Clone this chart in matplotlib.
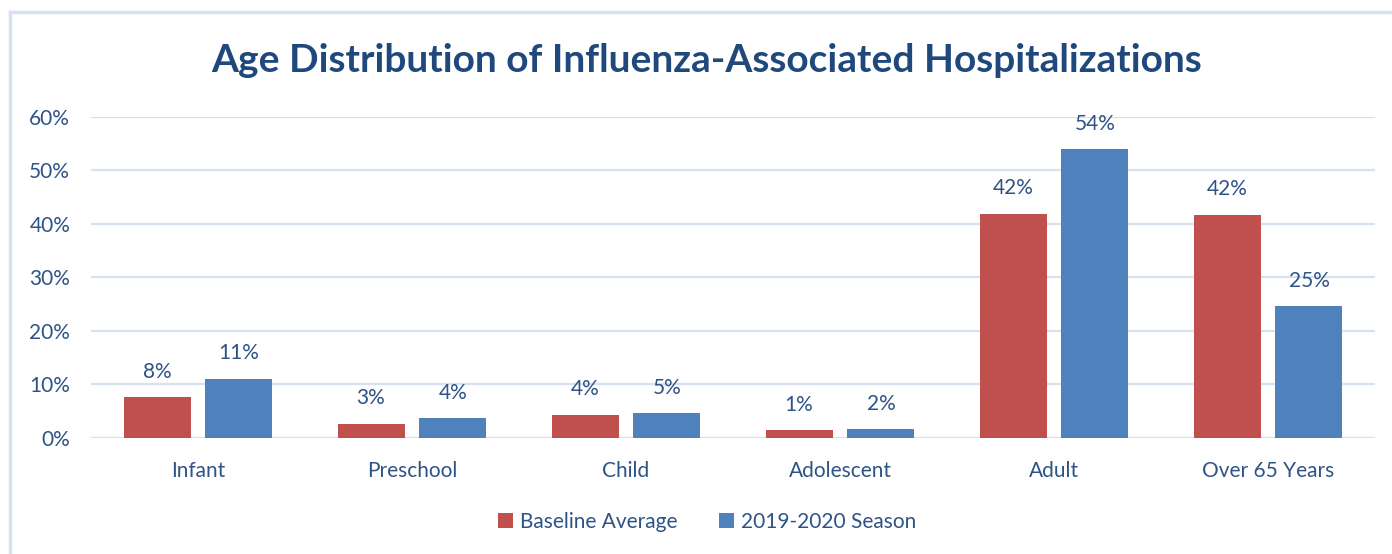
import matplotlib
matplotlib.use("Agg")
import matplotlib.pyplot as plt
from matplotlib.lines import Line2D
import numpy as np

categories = ["Infant", "Preschool", "Child", "Adolescent", "Adult", "Over 65 Years"]
baseline = [7.5, 2.6, 4.3, 1.4, 41.9, 41.7]
season = [11.0, 3.6, 4.6, 1.6, 54.0, 24.6]
series_names = ["Baseline Average", "2019-2020 Season"]
yticks = [0, 10, 20, 30, 40, 50, 60]

RED = "#C0504D"
BLUE = "#4F81BD"
TXT = "#2E5386"
TITLE = "#1F497D"
GRID = "#D6E2F2"

plt.rcParams['font.family'] = ['Lato', 'DejaVu Sans']

W, H = 1392, 554
fig = plt.figure(figsize=(W / 100, H / 100), dpi=100)
ax = fig.add_axes([91 / W, 1 - 437.5 / H, (1375 - 91) / W, (437.5 - 117) / H])

x = np.arange(len(categories))
bw = 0.313
gap = 0.07
off = (bw + gap) / 2
b1 = ax.bar(x - off, baseline, bw, color=RED, label=series_names[0], zorder=3)
b2 = ax.bar(x + off, season, bw, color=BLUE, label=series_names[1], zorder=3)

FS = 15
for bars, vals in ((b1, baseline), (b2, season)):
    for rect, v in zip(bars, vals):
        ax.annotate(f"{v:.0f}%", (rect.get_x() + rect.get_width() / 2, v),
                    xytext=(0, 11), textcoords="offset points",
                    ha="center", va="bottom", fontsize=FS, color=TXT)

ax.set_xlim(-0.5, len(categories) - 0.5)
ax.set_ylim(0, 60)
ax.set_yticks(yticks)
ax.set_yticklabels([f"{t}%" for t in yticks])
ax.set_xticks(x)
ax.set_xticklabels(categories)
ax.tick_params(axis="both", length=0, labelsize=FS, labelcolor=TXT)
ax.tick_params(axis="y", pad=15)
ax.tick_params(axis="x", pad=17)
ax.yaxis.grid(True, color=GRID, linewidth=1.6, zorder=0)
for s in ax.spines.values():
    s.set_visible(False)
ax.axhline(0, color=GRID, linewidth=1.6, zorder=2)

fig.text(707 / W, 1 - 60 / H, "Age Distribution of Influenza-Associated Hospitalizations",
         ha="center", va="center", fontsize=28, fontweight="bold", color=TITLE)

leg = fig.legend(handles=[b1, b2], labels=series_names, loc="center",
                 bbox_to_anchor=(707 / W, 1 - 522 / H), ncol=2, frameon=False,
                 fontsize=FS, handlelength=0.7, handleheight=0.7,
                 handletextpad=0.35, columnspacing=2.0)
for t in leg.get_texts():
    t.set_color(TXT)

fig.add_artist(Line2D([10 / W, 1], [1 - 12 / H, 1 - 12 / H], color=GRID, linewidth=2.5,
                      transform=fig.transFigure))
fig.add_artist(Line2D([10 / W, 10 / W], [0, 1 - 12 / H], color=GRID, linewidth=2.5,
                      transform=fig.transFigure))

fig.savefig("out.png", dpi=100)
